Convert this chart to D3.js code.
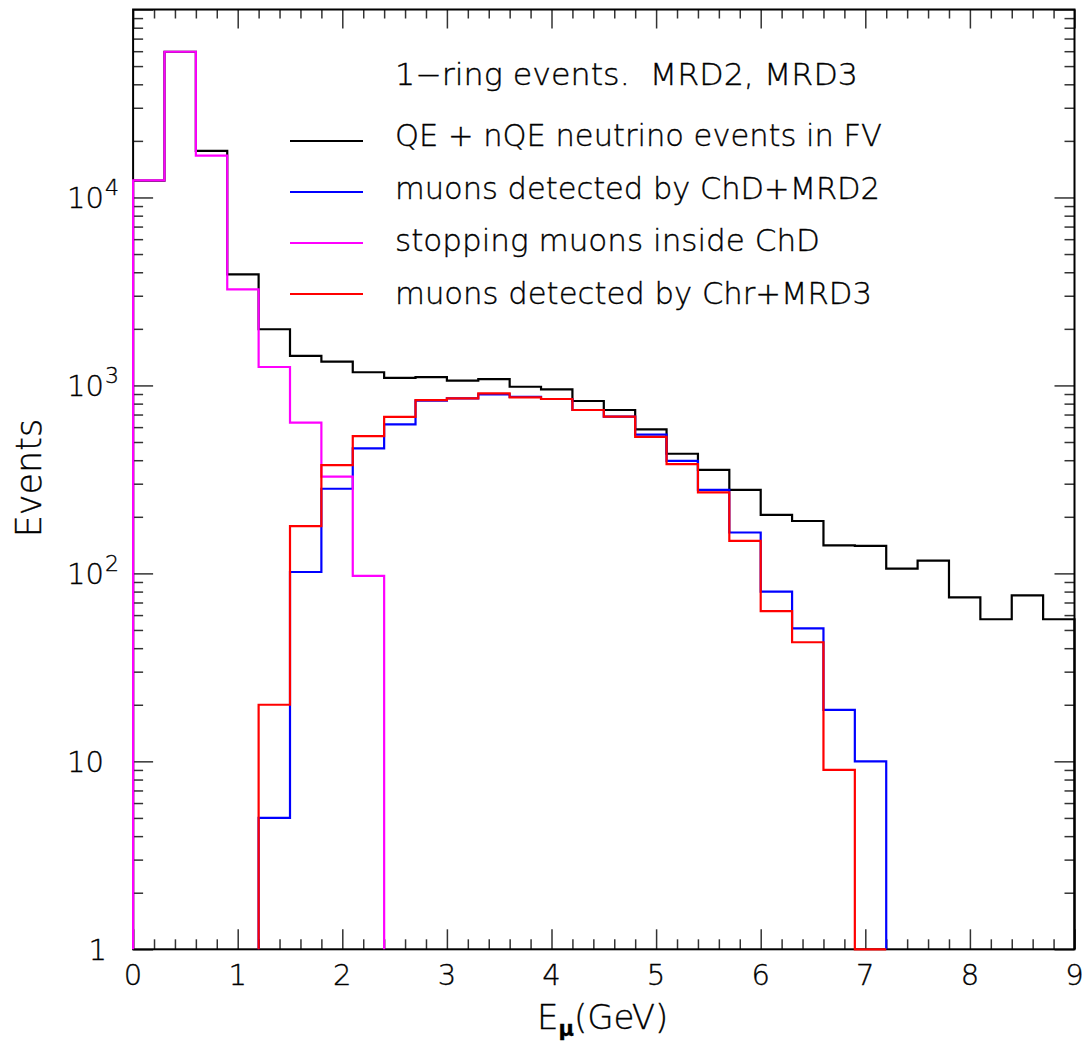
<!DOCTYPE html>
<html>
<head>
<meta charset="utf-8">
<script src="https://cdn.jsdelivr.net/npm/d3@7"></script>
<style>
  html, body { margin: 0; padding: 0; background: #fff; }
  svg { display: block; }
  text { font-family: "DejaVu Sans", sans-serif; font-weight: 200; fill: #000; stroke: #000; stroke-width: 0.35; white-space: pre; }
</style>
</head>
<body>
<svg id="chart" width="1089" height="1046"></svg>
<script>
// Muon energy histograms, 0.3 GeV bins from 0 to 9 GeV (events per bin)
const binWidth = 0.3;

// QE + nQE neutrino events in FV
const allEvents = [12300, 59600, 17700, 3900, 1990, 1435, 1337, 1175, 1097, 1108,
                   1060, 1079, 984, 953, 826, 740, 584, 433, 355, 278,
                   205, 190, 141, 140, 106, 117, 74.6, 57, 76.4, 57];
// muons detected by ChD+MRD2
const chdMrd2 = [null, null, null, null, 5, 101.7, 282, 462, 621, 830,
                 854, 897, 870, 847, 740, 682, 547, 397, 278, 165,
                 80, 51, 18.8, 10];
// stopping muons inside ChD
const stopping = [12340, 59600, 16680, 3245, 1253, 634, 327, 96.9];
// muons detected by Chr+MRD3
const chrMrd3 = [null, null, null, null, 20, 178.6, 377, 537, 680, 836,
                 854, 907, 864, 847, 740, 682, 533, 381, 270, 149,
                 63, 43, 9, 0.5];

const seriesNames = ["QE + nQE neutrino events in FV", "muons detected by ChD+MRD2",
                     "stopping muons inside ChD", "muons detected by Chr+MRD3"];
const seriesColors = ["#000000", "#0000ff", "#ff00ff", "#ff0000"];
const legendTitle = "1\u2212ring events.  MRD2, MRD3";

const xTickLabels = ["0", "1", "2", "3", "4", "5", "6", "7", "8", "9"];
const yDecades = [1, 10, 100, 1000, 10000];
const yExponents = ["", "", "2", "3", "4"];

const svg = d3.select("#chart");
const plotLeft = 133.1, plotRight = 1074.5, plotTop = 9.5, plotBottom = 949.3;

const x = d3.scaleLinear().domain([0, 9]).range([plotLeft, plotRight]);
const y = d3.scaleLog().domain([1, 1e5]).range([plotBottom, plotTop]).clamp(true);

// ---- ticks (inward on all four sides) ----
const xMajor = d3.range(0, 10, 1);
const xMinor = d3.range(0, 46).map(i => i * 0.2).filter(v => Math.abs(v - Math.round(v)) > 1e-6);
const yMinor = [];
for (let d = 1; d < 1e5; d *= 10) for (let m = 2; m <= 9; m++) yMinor.push(d * m);
const yMajor = [1, 10, 100, 1000, 10000, 100000];

function tickGroup(axis, tx, ty) {
  const g = svg.append("g").attr("transform", `translate(${tx},${ty})`).call(axis);
  g.select(".domain").remove();
  g.selectAll(".tick line").attr("stroke", "#333").attr("stroke-width", 1.5);
  g.selectAll(".tick text").remove();
  return g;
}
tickGroup(d3.axisBottom(x).tickValues(xMinor).tickSize(-10), 0, plotBottom);
tickGroup(d3.axisBottom(x).tickValues(xMajor).tickSize(-20), 0, plotBottom);
tickGroup(d3.axisTop(x).tickValues(xMinor).tickSize(-9), 0, plotTop);
tickGroup(d3.axisTop(x).tickValues(xMajor).tickSize(-19), 0, plotTop);
tickGroup(d3.axisLeft(y).tickValues(yMinor).tickSize(-10), plotLeft, 0);
tickGroup(d3.axisLeft(y).tickValues(yMajor).tickSize(-20), plotLeft, 0);
tickGroup(d3.axisRight(y).tickValues(yMinor).tickSize(-10), plotRight, 0);
tickGroup(d3.axisRight(y).tickValues(yMajor).tickSize(-20), plotRight, 0);

// frame
svg.append("rect")
  .attr("x", plotLeft).attr("y", plotTop)
  .attr("width", plotRight - plotLeft).attr("height", plotBottom - plotTop)
  .attr("fill", "none").attr("stroke", "#000").attr("stroke-width", 2);

// ---- tick labels ----
svg.append("g").selectAll("text").data(xTickLabels).join("text")
  .attr("x", (d, i) => x(i)).attr("y", plotBottom + 36)
  .attr("text-anchor", "middle").attr("font-size", 29)
  .text(d => d);

const yLab = svg.append("g");
yDecades.forEach((v, i) => {
  const t = yLab.append("text")
    .attr("y", y(v) + 10.5).attr("font-size", 29);
  if (v === 1) {
    t.attr("x", 107).attr("text-anchor", "end").text("1");
  } else if (v === 10) {
    t.attr("x", 104).attr("text-anchor", "end").text("10");
  } else {
    t.attr("x", 104).attr("text-anchor", "end").text("10");
    yLab.append("text")
      .attr("x", 105).attr("y", y(v) - 2)
      .attr("font-size", 22).text(yExponents[i]);
  }
});

// axis titles
const xt = svg.append("text").attr("x", 537).attr("y", 1029).attr("font-size", 34);
xt.append("tspan").text("E");
xt.append("tspan").attr("font-size", 21).attr("dy", 7).attr("font-weight", 700).text("\u03bc");
xt.append("tspan").attr("dy", -7).text("(GeV)");

svg.append("text")
  .attr("transform", "translate(41,478) rotate(-90)")
  .attr("text-anchor", "middle").attr("font-size", 35)
  .text("Events");

// ---- histograms ----
function stepPoints(values) {
  const pts = [];
  const first = values.findIndex(v => v != null);
  let last = values.length - 1;
  while (values[last] == null) last--;
  pts.push([first * binWidth, 1]);
  for (let i = first; i <= last; i++) {
    pts.push([i * binWidth, values[i]]);
    pts.push([(i + 1) * binWidth, values[i]]);
  }
  pts.push([(last + 1) * binWidth, 1]);
  return pts;
}
const line = d3.line().x(d => x(d[0])).y(d => y(d[1]));
[allEvents, chdMrd2, stopping, chrMrd3].forEach((vals, k) => {
  svg.append("path")
    .attr("d", line(stepPoints(vals)))
    .attr("fill", "none")
    .attr("stroke", seriesColors[k])
    .attr("stroke-width", 2.2)
    .attr("stroke-linejoin", "miter");
});

// ---- legend ----
const lg = svg.append("g");
lg.append("text").attr("x", 395).attr("y", 85).attr("font-size", 30)
  .attr("textLength", 463).attr("lengthAdjust", "spacingAndGlyphs")
  .text(legendTitle);
const textWidths = [487, 485, 425, 477];
seriesNames.forEach((name, k) => {
  const ly = 141 + k * 51;
  lg.append("line")
    .attr("x1", 290).attr("x2", 363).attr("y1", ly).attr("y2", ly)
    .attr("stroke", seriesColors[k]).attr("stroke-width", 1.8);
  lg.append("text").attr("x", 395).attr("y", ly + 5 + k * 1.5).attr("font-size", 30)
    .attr("textLength", textWidths[k]).attr("lengthAdjust", "spacingAndGlyphs")
    .text(name);
});
</script>
</body>
</html>
